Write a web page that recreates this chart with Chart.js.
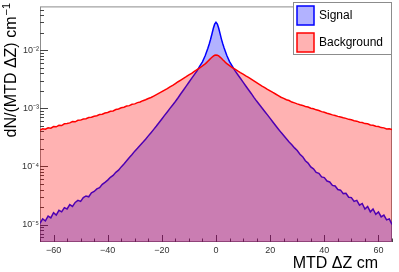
<!DOCTYPE html>
<html>
<head>
<meta charset="utf-8">
<script src="https://cdn.jsdelivr.net/npm/chart.js@4.4.0/dist/chart.umd.min.js"></script>
<style>
body { margin: 0; background: #fff; }
canvas { display: block; }
</style>
</head>
<body>
<canvas id="mtdChart" width="399" height="272"></canvas>
<script>
// bin centres in cm (finer bins in the core)
var binCenters = [-65,-64,-63,-62,-61,-60,-59,-58,-57,-56,-55,-54,-53,-52,-51,-50,-49,-48,-47,-46,-45,-44,-43,-42,-41,-40,-39,-38,-37,-36,-35,-34,-33,-32,-31,-30,-29,-28,-27,-26,-25,-24,-23,-22,-21,-20,-19,-18,-17,-16,-15,-14,-13,-12,-11,-10,-9,-8,-7,-6,-5,
  -4,-3.5,-3,-2.5,-2,-1.5,-1,-0.5,0,0.5,1,1.5,2,2.5,3,3.5,4,
  5,6,7,8,9,10,11,12,13,14,15,16,17,18,19,20,21,22,23,24,25,26,27,28,29,30,31,32,33,34,35,36,37,38,39,40,41,42,43,44,45,46,47,48,49,50,51,52,53,54,55,56,57,58,59,60,61,62,63,64,65];

var signalValues = [
  1.05e-5,1.25e-5,1.15e-5,1.4e-5,1.3e-5,1.6e-5,1.45e-5,1.75e-5,1.65e-5,1.95e-5,
  1.85e-5,2.2e-5,2.05e-5,2.4e-5,2.6e-5,2.5e-5,2.9e-5,3.1e-5,3.0e-5,3.5e-5,
  3.7e-5,4.1e-5,4.3e-5,4.9e-5,5.3e-5,5.8e-5,6.5e-5,7.0e-5,7.9e-5,8.6e-5,
  9.8e-5,1.1e-4,1.25e-4,1.42e-4,1.6e-4,1.83e-4,2.05e-4,2.32e-4,2.6e-4,2.93e-4,
  3.35e-4,3.8e-4,4.33e-4,4.95e-4,5.7e-4,6.55e-4,7.55e-4,8.65e-4,9.95e-4,1.14e-3,
  1.31e-3,1.52e-3,1.78e-3,2.06e-3,2.4e-3,2.8e-3,3.26e-3,3.79e-3,4.41e-3,5.3e-3,
  6.3e-3,
  8.0e-3,9.3e-3,1.08e-2,1.28e-2,1.54e-2,1.9e-2,2.36e-2,2.8e-2,3.02e-2,2.82e-2,
  2.38e-2,1.92e-2,1.55e-2,1.29e-2,1.09e-2,9.4e-3,8.1e-3,
  6.35e-3,5.3e-3,4.43e-3,3.81e-3,3.28e-3,2.82e-3,2.42e-3,2.08e-3,1.8e-3,1.54e-3,
  1.33e-3,1.16e-3,1.01e-3,8.8e-4,7.7e-4,6.7e-4,5.8e-4,5.05e-4,4.4e-4,3.85e-4,
  3.4e-4,2.98e-4,2.62e-4,2.36e-4,2.08e-4,1.88e-4,1.62e-4,1.47e-4,1.25e-4,1.14e-4,
  9.8e-5,9.1e-5,7.9e-5,7.6e-5,6.6e-5,6.4e-5,5.6e-5,5.4e-5,4.7e-5,4.6e-5,
  4.0e-5,3.9e-5,3.4e-5,3.45e-5,2.95e-5,2.9e-5,2.5e-5,2.6e-5,2.15e-5,2.3e-5,
  1.85e-5,2.05e-5,1.65e-5,1.85e-5,1.5e-5,1.65e-5,1.35e-5,1.45e-5,1.2e-5,1.25e-5,
  1.0e-5
];

var backgroundValues = [
  4.2e-4,4.45e-4,4.35e-4,4.6e-4,4.55e-4,4.85e-4,4.8e-4,5.1e-4,5.05e-4,5.4e-4,
  5.45e-4,5.6e-4,5.9e-4,5.85e-4,6.2e-4,6.25e-4,6.55e-4,6.6e-4,6.95e-4,7.0e-4,
  7.3e-4,7.45e-4,7.8e-4,7.9e-4,8.3e-4,8.45e-4,8.9e-4,9.0e-4,9.5e-4,9.7e-4,
  1.02e-3,1.04e-3,1.09e-3,1.11e-3,1.17e-3,1.19e-3,1.25e-3,1.28e-3,1.35e-3,1.4e-3,
  1.47e-3,1.53e-3,1.62e-3,1.72e-3,1.82e-3,1.93e-3,2.05e-3,2.18e-3,2.33e-3,2.48e-3,
  2.66e-3,2.86e-3,3.06e-3,3.28e-3,3.5e-3,3.75e-3,4.0e-3,4.3e-3,4.62e-3,4.97e-3,
  5.35e-3,
  5.8e-3,6.1e-3,6.45e-3,6.8e-3,7.2e-3,7.55e-3,7.9e-3,8.15e-3,8.25e-3,8.15e-3,
  7.95e-3,7.6e-3,7.25e-3,6.85e-3,6.5e-3,6.15e-3,5.85e-3,
  5.4e-3,5.02e-3,4.7e-3,4.38e-3,4.1e-3,3.86e-3,3.6e-3,3.4e-3,3.17e-3,2.96e-3,
  2.76e-3,2.58e-3,2.41e-3,2.27e-3,2.12e-3,2.0e-3,1.87e-3,1.76e-3,1.65e-3,1.55e-3,
  1.48e-3,1.4e-3,1.36e-3,1.28e-3,1.24e-3,1.19e-3,1.15e-3,1.12e-3,1.07e-3,1.05e-3,
  1.0e-3,9.8e-4,9.4e-4,9.15e-4,8.75e-4,8.55e-4,8.2e-4,7.95e-4,7.7e-4,7.5e-4,
  7.25e-4,7.1e-4,6.85e-4,6.7e-4,6.45e-4,6.35e-4,6.1e-4,6.0e-4,5.75e-4,5.7e-4,
  5.45e-4,5.4e-4,5.15e-4,5.1e-4,4.9e-4,4.85e-4,4.65e-4,4.6e-4,4.4e-4,4.45e-4,
  4.3e-4
];

var xTickValues = [-60, -40, -20, 0, 20, 40, 60];
var yTickValues = [1e-5, 1e-4, 1e-3, 1e-2];
var yTickLabels = ['10\u207B\u2075', '10\u207B\u2074', '10\u207B\u00B3', '10\u207B\u00B2'];

function toPoints(values) {
  return binCenters.map(function (x, i) { return { x: x, y: values[i] }; });
}

var FONT = "'Liberation Sans', Arial, sans-serif";
Chart.defaults.font.family = FONT;

// ROOT-like frame, inside ticks, legend box and axis titles
var rootDecor = {
  id: 'rootDecor',
  beforeDatasetsDraw: function (chart) {
    var c = chart.ctx, a = chart.chartArea, xs = chart.scales.x, ys = chart.scales.y;
    c.save();
    c.strokeStyle = '#8c8c8c';
    c.lineWidth = 1;
    c.strokeRect(a.left + 0.5, a.top + 0.5, a.right - a.left - 1, a.bottom - a.top - 1);
    c.strokeStyle = '#444';
    c.beginPath();
    for (var v = -65; v <= 65; v += 5) {
      var px = Math.round(xs.getPixelForValue(v)) + 0.5;
      var len = (v % 20 === 0) ? 7 : 3.5;
      c.moveTo(px, a.bottom);
      c.lineTo(px, a.bottom - len);
    }
    for (var e = -6; e <= -1; e++) {
      for (var k = 1; k <= 9; k++) {
        var val = k * Math.pow(10, e);
        if (val < ys.min || val > ys.max) continue;
        var py = Math.round(ys.getPixelForValue(val)) + 0.5;
        c.moveTo(a.left, py);
        c.lineTo(a.left + (k === 1 ? 8 : 4), py);
      }
    }
    c.stroke();
    c.restore();
  },
  afterDraw: function (chart) {
    var c = chart.ctx, a = chart.chartArea;
    c.save();
    // legend
    var bx = 293, by = 2, bw = a.right - bx, bh = 53;
    c.fillStyle = '#fff';
    c.fillRect(bx, by, bw, bh);
    c.strokeStyle = '#8c8c8c';
    c.lineWidth = 1;
    c.strokeRect(bx + 0.5, by + 0.5, bw - 1, bh - 1);
    var rows = [chart.data.datasets[0], chart.data.datasets[1]];
    c.font = '12px ' + FONT;
    c.textBaseline = 'middle';
    c.textAlign = 'left';
    rows.forEach(function (ds, i) {
      var sy = 6 + i * 27;
      c.fillStyle = '#fff';
      c.fillRect(297, sy, 17, 19);
      c.fillStyle = ds.backgroundColor;
      c.fillRect(297, sy, 17, 19);
      c.strokeStyle = ds.borderColor;
      c.lineWidth = 1.5;
      c.strokeRect(297, sy, 17, 19);
      c.fillStyle = '#000';
      c.fillText(ds.label, 319, sy + 10);
    });
    // x title
    c.font = '16px ' + FONT;
    c.textAlign = 'right';
    c.fillStyle = '#000';
    c.fillText('MTD \u0394Z cm', 378, 264);
    // y title
    c.translate(12, 3);
    c.rotate(-Math.PI / 2);
    c.font = '11px ' + FONT;
    var sup = '\u22121';
    var wSup = c.measureText(sup).width;
    c.fillText(sup, 0, -5);
    c.font = '16px ' + FONT;
    c.fillText('dN/(MTD \u0394Z) cm', -wSup - 1, 0);
    c.restore();
  }
};

var ctx = document.getElementById('mtdChart').getContext('2d');

var myChart = new Chart(ctx, {
  type: 'line',
  data: {
    datasets: [
      {
        label: 'Signal',
        data: toPoints(signalValues),
        fill: 'start',
        borderColor: '#0000ff',
        backgroundColor: 'rgba(0, 0, 255, 0.3)',
        borderWidth: 1.5,
        pointRadius: 0,
        order: 1 // drawn under the background
      },
      {
        label: 'Background',
        data: toPoints(backgroundValues),
        fill: 'start',
        borderColor: '#ff0000',
        backgroundColor: 'rgba(255, 0, 0, 0.3)',
        borderWidth: 1.5,
        pointRadius: 0,
        order: 0
      }
    ]
  },
  options: {
    responsive: false,
    animation: false,
    layout: { padding: { top: 2, right: 7, left: 0, bottom: 0 } },
    plugins: {
      legend: { display: false },
      tooltip: { enabled: false }
    },
    scales: {
      x: {
        type: 'linear',
        min: -65,
        max: 65,
        grid: { display: false, drawTicks: false },
        border: { display: false },
        ticks: {
          color: '#333',
          font: { size: 9 },
          padding: 3,
          maxRotation: 0,
          callback: function (v) { return String(v).replace('-', '\u2212'); }
        },
        afterBuildTicks: function (s) { s.ticks = xTickValues.map(function (v) { return { value: v }; }); },
        afterFit: function (s) { s.height = 30; }
      },
      y: {
        type: 'logarithmic',
        min: 5e-6,
        max: 0.0566,
        grid: { display: false, drawTicks: false },
        border: { display: false },
        ticks: {
          color: '#333',
          font: { size: 9 },
          padding: 1,
          callback: function (v) {
            var i = yTickValues.indexOf(v);
            return i >= 0 ? yTickLabels[i] : '';
          }
        },
        afterBuildTicks: function (s) { s.ticks = yTickValues.map(function (v) { return { value: v }; }); },
        afterFit: function (s) { s.width = 40; }
      }
    }
  },
  plugins: [rootDecor]
});
</script>
</body>
</html>
